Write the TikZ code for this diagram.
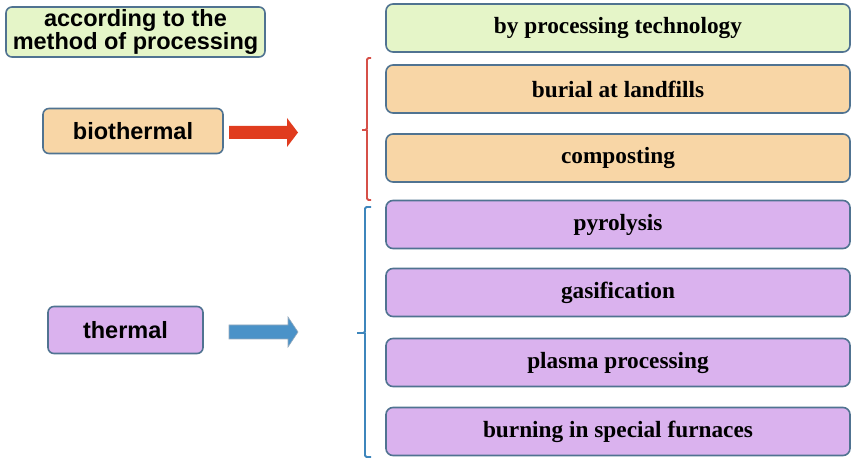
\documentclass[tikz,border=0pt]{standalone}
\usepackage{fontspec}
\setmainfont{Liberation Serif}
\newfontfamily\arialfont{Liberation Sans}
\usepackage{xcolor}
\usepackage{tikz}
\definecolor{boxline}{RGB}{80,115,145}
\definecolor{greenfill}{RGB}{229,245,200}
\definecolor{peachfill}{RGB}{248,214,166}
\definecolor{purplefill}{RGB}{218,178,238}
\definecolor{arrowred}{RGB}{224,60,30}
\definecolor{arrowblue}{RGB}{74,146,200}
\definecolor{bracketred}{RGB}{214,80,72}
\definecolor{bracketblue}{RGB}{62,134,188}

\tikzset{
    methodbox/.style={draw=boxline, line width=1.6pt, rounded corners=6pt, align=center,
        font=\arialfont\bfseries\fontsize{23.5}{23}\selectfont, inner sep=0pt},
    techbox/.style={draw=boxline, line width=1.6pt, rounded corners=7pt, align=center,
        minimum width=464pt, minimum height=48pt, inner sep=0pt,
        font=\bfseries\fontsize{23.3}{23}\selectfont}
}

\begin{document}
\begin{tikzpicture}[x=1pt,y=-1pt]
    \useasboundingbox (0,0) rectangle (852,470);
    % left column
    \node[methodbox, fill=greenfill, minimum width=259pt, minimum height=50pt] (method) at (135.5,32) {according to the\\method of processing};
    \node[methodbox, fill=peachfill, minimum width=180pt, minimum height=45pt] (bio) at (133,131) {biothermal};
    \node[methodbox, fill=purplefill, minimum width=155pt, minimum height=47pt] (therm) at (125.5,330) {thermal};

    % right column
    \node[techbox, fill=greenfill] (tech) at (618,28) {by processing technology};
    \node[techbox, fill=peachfill] (burial) at (618,89) {burial at landfills};
    \node[techbox, fill=peachfill] (compost) at (618,158) {composting};
    \node[techbox, fill=purplefill] (pyro) at (618,224.5) {pyrolysis};
    \node[techbox, fill=purplefill] (gas) at (618,292.5) {gasification};
    \node[techbox, fill=purplefill] (plasma) at (618,362.5) {plasma processing};
    \node[techbox, fill=purplefill] (burn) at (618,431.5) {burning in special furnaces};

    % arrows
    \fill[arrowred] (229,126) -- (287,126) -- (287,118) -- (298,132.5) -- (287,147) -- (287,139) -- (229,139) -- cycle;
    \draw[boxline!60, line width=0.6pt, fill=arrowblue] (229,325) -- (288,325) -- (288,317) -- (298,332) -- (288,347) -- (288,339) -- (229,339) -- cycle;

    % brackets
    \draw[bracketred, line width=1.8pt, rounded corners=1.5pt] (371,58) -- (367,58) -- (367,130) -- (362,130) (367,130) -- (367,200) -- (371,200);
    \draw[bracketblue, line width=1.8pt, rounded corners=1.5pt] (371,207) -- (365,207) -- (365,333) -- (357,333) (365,333) -- (365,457) -- (371,457);
\end{tikzpicture}
\end{document}
